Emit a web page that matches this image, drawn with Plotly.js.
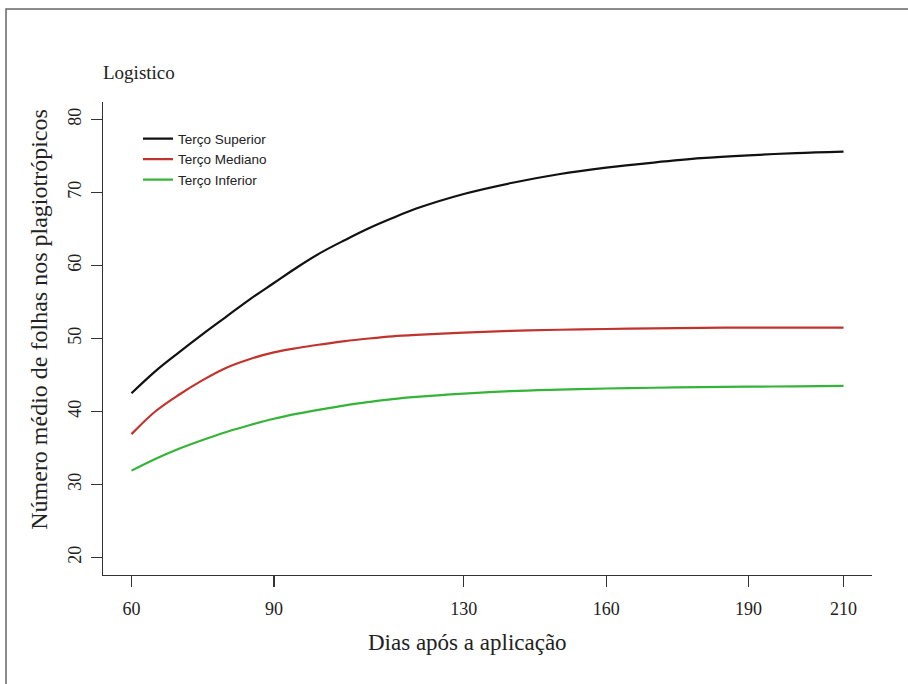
<!DOCTYPE html>
<html>
<head>
<meta charset="utf-8">
<script src="https://cdn.plot.ly/plotly-3.0.1.min.js"></script>
<style>
  html, body { margin: 0; padding: 0; background: #fff; }
  #chart { width: 908px; height: 684px; }
</style>
</head>
<body>
<div id="chart"></div>
<script>
// Days after application
const dias = [60, 65, 70, 75, 80, 85, 90, 95, 100, 105, 110, 115, 120, 130, 140, 150, 160, 170, 180, 190, 200, 210];
// Mean number of leaves
const tercoSuperior = [42.5, 45.5, 48.1, 50.6, 53.0, 55.4, 57.6, 59.8, 61.8, 63.5, 65.1, 66.5, 67.8, 69.8, 71.3, 72.5, 73.4, 74.1, 74.7, 75.1, 75.4, 75.6];
const tercoMediano  = [36.9, 40.0, 42.3, 44.3, 46.0, 47.2, 48.1, 48.7, 49.2, 49.65, 50.0, 50.3, 50.5, 50.8, 51.05, 51.2, 51.3, 51.4, 51.45, 51.5, 51.5, 51.5];
const tercoInferior = [31.9, 33.5, 34.9, 36.1, 37.2, 38.15, 39.0, 39.7, 40.3, 40.85, 41.3, 41.7, 42.0, 42.45, 42.8, 43.0, 43.15, 43.25, 43.35, 43.4, 43.45, 43.5];
const seriesNames = ['Terço Superior', 'Terço Mediano', 'Terço Inferior'];
const xTicks = [60, 90, 130, 160, 190, 210];
const yTicks = [20, 30, 40, 50, 60, 70, 80];

const serif = 'Liberation Serif, Times New Roman, serif';
const sans = 'Liberation Sans, Arial, sans-serif';

const mk = (y, name, color) => ({
  x: dias, y: y, name: name, type: 'scatter', mode: 'lines',
  line: { color: color, width: 2.2, shape: 'spline', smoothing: 1 }
});

const data = [
  mk(tercoSuperior, seriesNames[0], '#111111'),
  mk(tercoMediano, seriesNames[1], '#c1332d'),
  mk(tercoInferior, seriesNames[2], '#35b43a')
];

const layout = {
  width: 908, height: 684,
  margin: { l: 103, r: 36, t: 102, b: 108.5, pad: 0 },
  paper_bgcolor: '#ffffff', plot_bgcolor: '#ffffff',
  showlegend: true,
  legend: {
    x: 0.0455, y: 0.955, xanchor: 'left', yanchor: 'top',
    bgcolor: 'rgba(0,0,0,0)', borderwidth: 0,
    font: { family: sans, size: 13.5, color: '#222' },
    tracegroupgap: 0
  },
  xaxis: {
    range: [54, 216], tickvals: xTicks, ticktext: xTicks.map(String),
    showgrid: false, zeroline: false, showline: true, linecolor: '#333', linewidth: 1.3,
    ticks: 'outside', ticklen: 11, tickwidth: 1.3, tickcolor: '#333',
    tickfont: { family: serif, size: 18, color: '#222' }, ticklabelstandoff: 6
  },
  yaxis: {
    range: [17.6, 82.4], tickvals: yTicks, ticktext: yTicks.map(String),
    showgrid: false, zeroline: false, showline: true, linecolor: '#333', linewidth: 1.3,
    ticks: 'outside', ticklen: 11, tickwidth: 1.3, tickcolor: '#333', tickangle: -90,
    tickfont: { family: serif, size: 18, color: '#222' }, ticklabelstandoff: 3
  },
  annotations: [
    { text: 'Logistico', xref: 'paper', yref: 'paper', x: (101 - 103) / 769, y: (575.5 - 72) / 473.5,
      xanchor: 'left', yanchor: 'middle', showarrow: false,
      font: { family: serif, size: 19, color: '#222' } },
    { text: 'Dias após a aplicação', xref: 'paper', yref: 'paper', x: (467 - 103) / 769, y: (575.5 - 643) / 473.5,
      xanchor: 'center', yanchor: 'middle', showarrow: false,
      font: { family: serif, size: 23, color: '#222' } },
    { text: 'Número médio de folhas nos plagiotrópicos', xref: 'paper', yref: 'paper', x: (39 - 103) / 769, y: (575.5 - 320) / 473.5,
      xanchor: 'center', yanchor: 'middle', showarrow: false, textangle: -90,
      font: { family: serif, size: 24, color: '#222' } }
  ],
  shapes: [
    { type: 'rect', xref: 'paper', yref: 'paper', layer: 'below',
      x0: (6 - 103) / 769, x1: (930 - 103) / 769, y0: (575.5 - 720) / 473.5, y1: (575.5 - 9) / 473.5,
      line: { color: '#666', width: 1.5 }, fillcolor: 'rgba(0,0,0,0)' }
  ]
};

Plotly.newPlot('chart', data, layout, { displayModeBar: false, staticPlot: true });
</script>
</body>
</html>
